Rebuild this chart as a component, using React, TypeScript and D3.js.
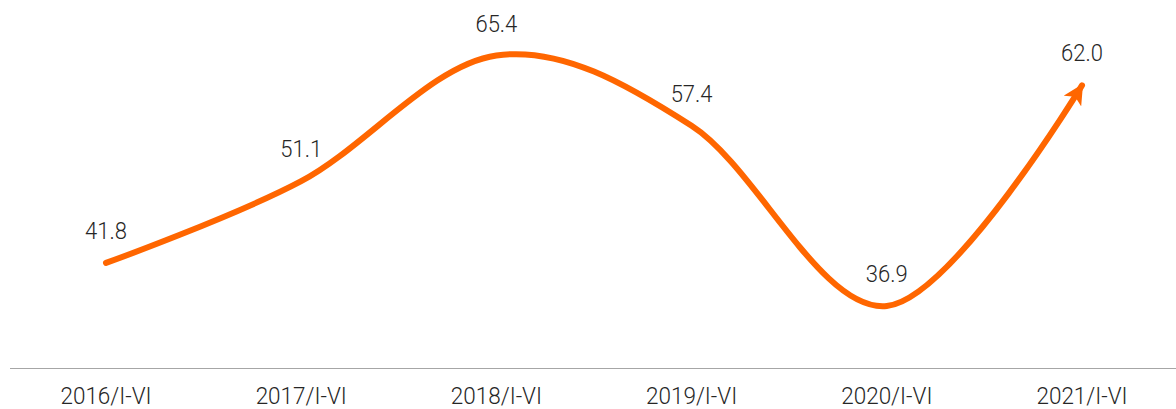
import React, { useRef, useEffect } from "react";
import * as d3 from "d3";

const categories = ["2016/I-VI", "2017/I-VI", "2018/I-VI", "2019/I-VI", "2020/I-VI", "2021/I-VI"];
const values = [41.8, 51.1, 65.4, 57.4, 36.9, 62.0];

const W = 1176;
const H = 409;
const TEXT_STRETCH = 1.1; // source text is slightly taller than it is wide

export default function App() {
  const svgRef = useRef<SVGSVGElement>(null);

  useEffect(() => {
    if (!svgRef.current) return;
    const svg = d3.select(svgRef.current);
    svg.selectAll("*").remove();

    const x = d3.scaleBand<string>().domain(categories).range([8.4, 1179.6]);
    const y = d3.scaleLinear().domain([36.9, 65.4]).range([306, 55.5]);
    const cx = (c: string) => (x(c) ?? 0) + x.bandwidth() / 2;

    svg
      .append("defs")
      .append("marker")
      .attr("id", "arrow")
      .attr("viewBox", "0 0 10 10")
      .attr("refX", 9)
      .attr("refY", 5)
      .attr("markerWidth", 3.4)
      .attr("markerHeight", 3.4)
      .attr("orient", "auto")
      .attr("markerUnits", "strokeWidth")
      .append("path")
      .attr("d", "M0,0 L10,5 L0,10 L2.5,5 Z")
      .attr("fill", "#ff6600");

    // axis baseline
    svg
      .append("line")
      .attr("x1", 10)
      .attr("x2", W)
      .attr("y1", 368.5)
      .attr("y2", 368.5)
      .attr("stroke", "#a6a6a6")
      .attr("stroke-width", 1);

    svg
      .selectAll(".xlab")
      .data(categories)
      .enter()
      .append("text")
      .attr("class", "xlab")
      .attr("transform", (d) => `translate(${cx(d)},404) scale(1,${TEXT_STRETCH})`)
      .attr("text-anchor", "middle")
      .attr("font-family", "Roboto")
      .attr("font-weight", 300)
      .attr("font-size", 22.5)
      .attr("fill", "#262626")
      .text((d) => d);

    const pts = categories.map((c, i) => ({ c, v: values[i] }));
    const line = d3
      .line<{ c: string; v: number }>()
      .x((d) => cx(d.c))
      .y((d) => y(d.v))
      .curve(d3.curveCardinal.tension(0));

    svg
      .append("path")
      .datum(pts)
      .attr("fill", "none")
      .attr("stroke", "#ff6600")
      .attr("stroke-width", 6)
      .attr("stroke-linecap", "round")
      .attr("marker-end", "url(#arrow)")
      .attr("d", line);

    svg
      .selectAll(".vlab")
      .data(pts)
      .enter()
      .append("text")
      .attr("class", "vlab")
      .attr("transform", (d) => `translate(${cx(d.c)},${y(d.v) - 24}) scale(1,${TEXT_STRETCH})`)
      .attr("text-anchor", "middle")
      .attr("font-family", "Roboto")
      .attr("font-weight", 300)
      .attr("font-size", 22)
      .attr("fill", "#262626")
      .text((d) => d.v.toFixed(1));
  }, []);

  return (
    <div style={{ position: "fixed", left: 0, top: 0 }}>
      <svg ref={svgRef} width={W} height={H} style={{ display: "block", background: "#fff" }} />
    </div>
  );
}
